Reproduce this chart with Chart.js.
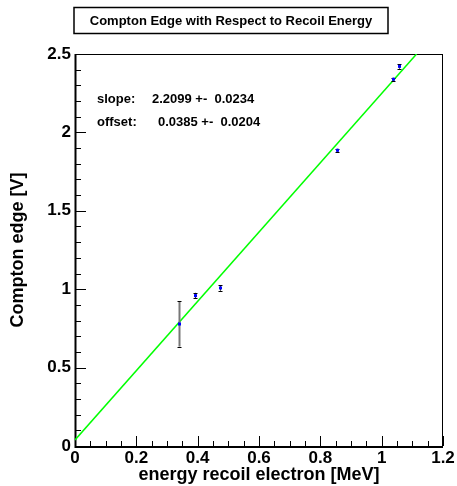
<!DOCTYPE html>
<html>
<head>
<meta charset="utf-8">
<script src="https://cdn.jsdelivr.net/npm/chart.js@4/dist/chart.umd.min.js"></script>
<style>
html,body{margin:0;padding:0;background:#fff;}
#wrap{width:457px;height:486px;position:relative;}
</style>
</head>
<body>
<div id="wrap"><canvas id="c" width="457" height="486"></canvas></div>
<script>
// ---- data ----
const energy   = [0.338, 0.392, 0.474, 0.853, 1.038, 1.057];
const edge     = [0.778, 0.959, 1.008, 1.886, 2.339, 2.421];
const edgeErr  = [0.144, 0.018, 0.018, 0.010, 0.010, 0.015];
const fitSlope = 2.2099;
const fitOffset = 0.0385;
const fitX = [0, (2.5 - 0.0385) / 2.2099];
const xTicks = [0, 0.2, 0.4, 0.6, 0.8, 1, 1.2];
const yTicks = [0, 0.5, 1, 1.5, 2, 2.5];
const titleText = "Compton Edge with Respect to Recoil Energy";
const xTitle = "energy recoil electron [MeV]";
const yTitle = "Compton edge [V]";
const statLines = [["slope:", "2.2099 +-  0.0234"], ["offset:", "0.0385 +-  0.0204"]];

const FONT = "'Liberation Sans', Arial, Helvetica, sans-serif";

const rootPlugin = {
  id: 'rootStyle',
  beforeDatasetsDraw(chart) {
    const ctx = chart.ctx, xs = chart.scales.x, ys = chart.scales.y;
    const a = chart.chartArea;
    ctx.save();
    ctx.strokeStyle = '#000';
    ctx.lineWidth = 1;
    ctx.strokeRect(a.left + 0.5, a.top + 0.5, a.right - a.left - 1, a.bottom - a.top);
    ctx.beginPath();
    for (let v = 0; v <= 1.2001; v += 0.05) {
      const px = Math.round(xs.getPixelForValue(v)) + 0.5;
      const major = Math.abs(v / 0.2 - Math.round(v / 0.2)) < 1e-6;
      const len = major ? 10 : 5;
      ctx.moveTo(px, a.bottom);
      ctx.lineTo(px, a.bottom - len);
    }
    for (let v = 0; v <= 2.5001; v += 0.1) {
      const py = Math.round(ys.getPixelForValue(v)) + 0.5;
      const major = Math.abs(v / 0.5 - Math.round(v / 0.5)) < 1e-6;
      const len = major ? 11 : 6;
      ctx.moveTo(a.left, py);
      ctx.lineTo(a.left + len, py);
    }
    ctx.stroke();
    ctx.lineWidth = 2;
    ctx.beginPath();
    ctx.moveTo(a.left + 0.5, a.top); ctx.lineTo(a.left + 0.5, a.bottom + 1);
    ctx.lineTo(a.right, a.bottom + 1);
    ctx.stroke();
    ctx.restore();
  },
  afterDatasetsDraw(chart) {
    const ctx = chart.ctx, xs = chart.scales.x, ys = chart.scales.y;
    ctx.save();
    for (let i = 0; i < energy.length; i++) {
      const px = Math.round(xs.getPixelForValue(energy[i])) + 0.5;
      const pt = ys.getPixelForValue(edge[i] + edgeErr[i]);
      const pb = ys.getPixelForValue(edge[i] - edgeErr[i]);
      ctx.strokeStyle = i === 0 ? '#777' : '#333';
      ctx.lineWidth = i === 0 ? 2 : 1;
      ctx.beginPath();
      ctx.moveTo(px, pt); ctx.lineTo(px, pb);
      ctx.stroke();
      ctx.strokeStyle = '#000';
      ctx.lineWidth = 1;
      ctx.beginPath();
      ctx.moveTo(px - 2, Math.round(pt) + 0.5); ctx.lineTo(px + 2, Math.round(pt) + 0.5);
      ctx.moveTo(px - 2, Math.round(pb) + 0.5); ctx.lineTo(px + 2, Math.round(pb) + 0.5);
      ctx.stroke();
      ctx.fillStyle = '#0000ff';
      ctx.fillRect(px - 1.5, ys.getPixelForValue(edge[i]) - 1.5, 3, 3);
    }
    ctx.fillStyle = '#000';
    ctx.font = "bold 13px " + FONT;
    ctx.textBaseline = 'middle';
    ctx.textAlign = 'left';
    ctx.fillText(statLines[0][0], 97, 99);
    ctx.fillText(statLines[0][1], 152, 99);
    ctx.fillText(statLines[1][0], 97, 122);
    ctx.fillText(statLines[1][1], 158, 122);
    ctx.restore();
  },
  afterDraw(chart) {
    const ctx = chart.ctx;
    const a = chart.chartArea;
    ctx.save();
    ctx.strokeStyle = '#000';
    ctx.lineWidth = 1.5;
    ctx.strokeRect(74, 7.5, 314, 26);
    ctx.fillStyle = '#000';
    ctx.font = "bold 13px " + FONT;
    ctx.textAlign = 'center';
    ctx.textBaseline = 'middle';
    ctx.fillText(titleText, 231, 21);
    ctx.font = "bold 18px " + FONT;
    ctx.textAlign = 'center';
    ctx.textBaseline = 'middle';
    ctx.fillText(xTitle, (a.left + a.right) / 2, 475);
    ctx.translate(18, (a.top + a.bottom) / 2);
    ctx.rotate(-Math.PI / 2);
    ctx.fillText(yTitle, 0, 0);
    ctx.restore();
  }
};

new Chart(document.getElementById('c'), {
  type: 'scatter',
  data: {
    datasets: [
      {
        type: 'line',
        data: fitX.map(x => ({x: x, y: fitSlope * x + fitOffset})),
        borderColor: '#00ff00',
        borderWidth: 1.5,
        pointRadius: 0,
        fill: false,
        tension: 0
      }
    ]
  },
  options: {
    responsive: false,
    animation: false,
    devicePixelRatio: 1,
    layout: { padding: { top: 54, right: 14, left: 0, bottom: 0 } },
    plugins: { legend: { display: false }, tooltip: { enabled: false }, title: { display: false } },
    scales: {
      x: {
        type: 'linear', min: 0, max: 1.2,
        grid: { display: false, drawTicks: false },
        border: { display: false },
        afterFit: s => { s.height = 40; },
        afterBuildTicks: s => { s.ticks = xTicks.map(v => ({value: v})); },
        ticks: {
          color: '#000', padding: 2,
          font: { family: FONT, weight: 'bold', size: 17 },
          maxRotation: 0, autoSkip: false,
          callback: v => String(v)
        }
      },
      y: {
        type: 'linear', min: 0, max: 2.5,
        grid: { display: false, drawTicks: false },
        border: { display: false },
        afterFit: s => { s.width = 75; },
        afterBuildTicks: s => { s.ticks = yTicks.map(v => ({value: v})); },
        ticks: {
          color: '#000', padding: 4,
          font: { family: FONT, weight: 'bold', size: 17 },
          autoSkip: false,
          callback: v => String(v)
        }
      }
    }
  },
  plugins: [rootPlugin]
});
</script>
</body>
</html>
